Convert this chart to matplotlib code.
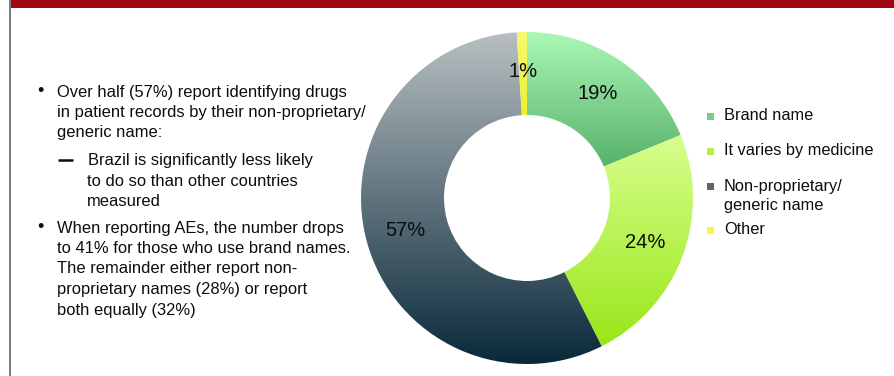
import matplotlib
matplotlib.use("Agg")
import matplotlib.pyplot as plt
import numpy as np
from matplotlib.colors import LinearSegmentedColormap
from matplotlib.patches import Rectangle

plt.rcParams['font.family'] = ['Liberation Sans', 'DejaVu Sans']

# ---- data ----
categories = ["Brand name", "It varies by medicine", "Non-proprietary/\ngeneric name", "Other"]
values = [19, 24, 57, 1]
pct_labels = ["19%", "24%", "57%", "1%"]
grad_top = ["#abf7b6", "#d8ff8e", "#b8bfc1", "#f8f870"]
grad_bottom = ["#57b26b", "#9ae619", "#09293a", "#eef030"]
legend_colors = ["#78cc87", "#b6ef45", "#5c686f", "#f2f64a"]

bullet1 = ["Over half (57%) report identifying drugs",
           "in patient records by their non-proprietary/",
           "generic name:"]
sub1 = ["Brazil is significantly less likely",
        "to do so than other countries",
        "measured"]
bullet2 = ["When reporting AEs, the number drops",
           "to 41% for those who use brand names.",
           "The remainder either report non-",
           "proprietary names (28%) or report",
           "both equally (32%)"]

W, H = 894, 376
fig = plt.figure(figsize=(W / 100, H / 100), dpi=100)

# background / text axes in pixel coordinates
bg = fig.add_axes([0, 0, 1, 1])
bg.set_xlim(0, W)
bg.set_ylim(H, 0)
bg.axis('off')
bg.add_patch(Rectangle((9, 0), W - 9, 8, color="#a0070f", lw=0))
bg.add_patch(Rectangle((8.5, 0), 2, H, color="#7b7b7b", lw=0))

fs = 11.9
tcol = "#0d0d0d"
tx = 57
for i, line in enumerate(bullet1):
    y = 92 + i * 20.2
    if i == 0:
        bg.text(40, y, "•", fontsize=13, ha='center', va='center', color=tcol)
    bg.text(tx, y, line, fontsize=fs, ha='left', va='center', color=tcol)
for i, line in enumerate(sub1):
    y = 161 + i * 20
    if i == 0:
        bg.plot([58, 73], [159.5, 159.5], color=tcol, lw=1.8, solid_capstyle='butt')
        bg.text(88, y, line, fontsize=fs, ha='left', va='center', color=tcol)
    else:
        bg.text(87, y, line, fontsize=fs, ha='left', va='center', color=tcol)
for i, line in enumerate(bullet2):
    y = 228 + i * 20.5
    if i == 0:
        bg.text(40, y, "•", fontsize=13, ha='center', va='center', color=tcol)
    bg.text(tx, y, line, fontsize=fs, ha='left', va='center', color=tcol)

# legend
leg_y = [116, 151, 186, 230]
for cat, col, y in zip(categories, legend_colors, leg_y):
    bg.add_patch(Rectangle((707, y - 3.5), 7, 7, color=col, lw=0))
    for k, part in enumerate(cat.split("\n")):
        bg.text(724, y + k * 19.5, part, fontsize=11.8, ha='left', va='center', color=tcol)

# donut
cx, cy, R = 527, 198, 166
half = 172
ax = fig.add_axes([(cx - half) / W, 1 - (cy + half) / H, 2 * half / W, 2 * half / H])
wedges, texts = ax.pie(values, labels=pct_labels, startangle=90, counterclock=False,
                       radius=1.0, labeldistance=0.76,
                       wedgeprops=dict(width=0.5, linewidth=0),
                       textprops=dict(fontsize=14.5, color=tcol))
for t in texts:
    t.set_ha('center')
    t.set_va('center')
for w, top, bot in zip(wedges, grad_top, grad_bottom):
    ext = w.get_path().get_extents()
    cmap = LinearSegmentedColormap.from_list("g", [top, bot])
    grad = np.linspace(0, 1, 256).reshape(-1, 1)
    im = ax.imshow(grad, cmap=cmap, extent=[ext.x0, ext.x1, ext.y0, ext.y1],
                   origin='upper', aspect='auto', interpolation='bilinear', zorder=1)
    im.set_clip_path(w)
    w.set_facecolor('none')
for t in texts:
    t.set_zorder(3)
lim = half / R
ax.set_xlim(-lim, lim)
ax.set_ylim(-lim, lim)
ax.set_aspect('equal')
ax.axis('off')

fig.savefig("out.png", dpi=100)
